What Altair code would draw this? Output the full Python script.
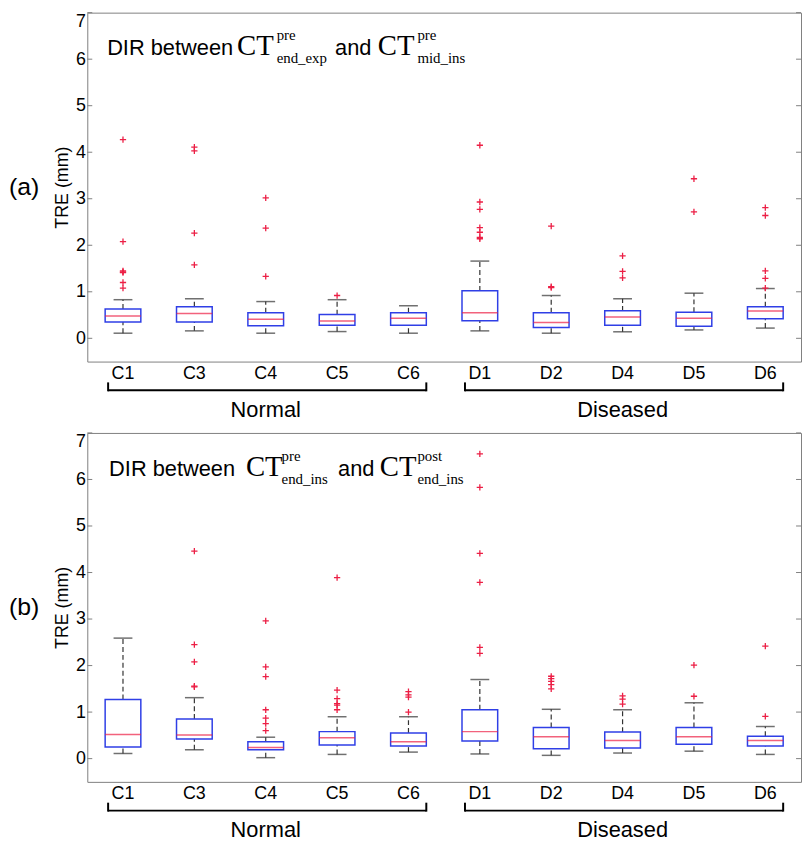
import altair as alt
import pandas as pd

W, H = 720, 352
BLUE = "#2f3fe6"
RED = "#ec1f45"
WHISK = "#333333"
FRAME = "#808080"
SANS = "Liberation Sans"
SERIF = "Liberation Serif"

cats = ["C1", "C3", "C4", "C5", "C6", "D1", "D2", "D4", "D5", "D6"]
groups = ["Normal", "Diseased"]
group_start = ["C1", "D1"]
group_end = ["C6", "D6"]
group_mid = ["C4", "D4"]
yticks = [0, 1, 2, 3, 4, 5, 6, 7]

# Panel (a)
a_lo = [0.11, 0.16, 0.11, 0.145, 0.11, 0.16, 0.11, 0.14, 0.18, 0.22]
a_q1 = [0.35, 0.35, 0.27, 0.28, 0.28, 0.38, 0.23, 0.28, 0.26, 0.42]
a_med = [0.48, 0.535, 0.41, 0.37, 0.43, 0.55, 0.34, 0.46, 0.43, 0.585]
a_q3 = [0.63, 0.68, 0.55, 0.51, 0.55, 1.02, 0.55, 0.59, 0.56, 0.68]
a_hi = [0.83, 0.85, 0.79, 0.83, 0.70, 1.66, 0.92, 0.85, 0.97, 1.07]
a_out = [[4.27, 2.08, 1.45, 1.43, 1.41, 1.20, 1.08],
         [4.11, 4.03, 2.26, 1.58],
         [3.02, 2.37, 1.33],
         [0.92],
         [],
         [4.15, 2.93, 2.77, 2.38, 2.28, 2.17, 2.14],
         [2.41, 1.11, 1.09],
         [1.77, 1.44, 1.30],
         [3.43, 2.72],
         [2.81, 2.64, 1.45, 1.29, 1.08]]
a_title = ["DIR between", "CT", "pre", "end_exp", "and", "CT", "pre", "mid_ins"]

# Panel (b)
b_lo = [0.11, 0.19, 0.02, 0.09, 0.14, 0.10, 0.07, 0.12, 0.16, 0.09]
b_q1 = [0.25, 0.42, 0.19, 0.29, 0.27, 0.38, 0.21, 0.23, 0.31, 0.27]
b_med = [0.52, 0.51, 0.24, 0.45, 0.36, 0.58, 0.47, 0.39, 0.47, 0.39]
b_q3 = [1.27, 0.85, 0.36, 0.58, 0.55, 1.05, 0.67, 0.57, 0.67, 0.48]
b_hi = [2.59, 1.31, 0.46, 0.90, 0.90, 1.70, 1.06, 1.05, 1.20, 0.69]
b_out = [[],
         [4.46, 2.45, 2.08, 1.56, 1.54],
         [2.96, 1.97, 1.76, 1.05, 0.87, 0.75, 0.60],
         [3.89, 1.47, 1.29, 1.18, 1.15, 1.05],
         [1.44, 1.37, 1.32, 1.00],
         [6.55, 5.83, 4.41, 3.79, 2.39, 2.26],
         [1.77, 1.72, 1.66, 1.59, 1.50],
         [1.35, 1.28, 1.17],
         [2.01, 1.34],
         [2.42, 0.91]]
b_title = ["DIR between", "CT", "pre", "end_ins", "and", "CT", "post", "end_ins"]

xscale = alt.Scale(domain=cats, paddingInner=0, paddingOuter=0)
xaxis = alt.Axis(title=None, labelAngle=0, ticks=False, domain=False, labelPadding=3,
                 labelFontSize=18, grid=False)
yscale = alt.Scale(domain=[-0.5, 7], nice=False, zero=False)
yaxis = alt.Axis(values=yticks, title="TRE (mm)", titleFontSize=18, titleFontWeight="normal",
                 titlePadding=4, labelFontSize=18, labelPadding=2, ticks=False, domain=False,
                 labelFlush=True, grid=False, format="d")


def X(field):
    return alt.X(field, sort=cats, scale=xscale, axis=xaxis)


def Y(field):
    return alt.Y(field, scale=yscale, axis=yaxis)


def seg(text, x, y, size, font):
    return alt.Chart(pd.DataFrame({"t": [text]})).mark_text(
        align="left", baseline="alphabetic", fontSize=size, font=font, color="black"
    ).encode(x=alt.value(x), y=alt.value(y), text="t:N")


def panel(lo, q1, med, q3, hi, outs, letter, title, tx):
    df = pd.DataFrame({"cat": cats, "lo": lo, "q1": q1, "med": med, "q3": q3, "hi": hi})
    odf = pd.DataFrame([(c, v) for c, vs in zip(cats, outs) for v in vs], columns=["cat", "v"])
    gdf = pd.DataFrame({"start": group_start, "end": group_end, "mid": group_mid, "label": groups})
    tdf = pd.DataFrame({"t": yticks})
    base = alt.Chart(df)
    layers = [
        base.mark_rule(strokeDash=[5, 3], color=WHISK, strokeWidth=1.2).encode(x=X("cat:N"), y=Y("q3:Q"), y2="hi:Q"),
        base.mark_rule(strokeDash=[5, 3], color=WHISK, strokeWidth=1.2).encode(x=X("cat:N"), y=Y("lo:Q"), y2="q1:Q"),
        base.mark_tick(size=19, thickness=1.5, color=WHISK).encode(x=X("cat:N"), y=Y("hi:Q")),
        base.mark_tick(size=19, thickness=1.5, color=WHISK).encode(x=X("cat:N"), y=Y("lo:Q")),
        base.mark_bar(size=36, fillOpacity=0, stroke=BLUE, strokeWidth=1.5).encode(x=X("cat:N"), y=Y("q1:Q"), y2="q3:Q"),
        base.mark_tick(size=36, thickness=1.5, color=RED).encode(x=X("cat:N"), y=Y("med:Q")),
        alt.Chart(odf).mark_point(shape="M-1,0L1,0M0,-1L0,1", size=40, filled=False, color=RED,
                                  strokeWidth=1.3, opacity=1).encode(x=X("cat:N"), y=Y("v:Q")),
        alt.Chart(tdf).mark_rule(color=FRAME, strokeWidth=1).encode(y=Y("t:Q"), x=alt.value(0), x2=alt.value(5)),
        alt.Chart(tdf).mark_rule(color=FRAME, strokeWidth=1).encode(y=Y("t:Q"), x=alt.value(W - 5), x2=alt.value(W)),
        alt.Chart(gdf).mark_rule(xOffset=-15, x2Offset=18, strokeWidth=2, color="black").encode(
            x=X("start:N"), x2="end:N", y=alt.value(H + 29)),
        alt.Chart(gdf).mark_rule(xOffset=-15, strokeWidth=2, color="black").encode(
            x=X("start:N"), y=alt.value(H + 21), y2=alt.value(H + 30)),
        alt.Chart(gdf).mark_rule(xOffset=18, strokeWidth=2, color="black").encode(
            x=X("end:N"), y=alt.value(H + 21), y2=alt.value(H + 30)),
        alt.Chart(gdf).mark_text(fontSize=22, baseline="middle", font=SANS, color="black").encode(
            x=X("mid:N"), y=alt.value(H + 49), text="label:N"),
        alt.Chart(pd.DataFrame({"t": [letter]})).mark_text(
            align="left", baseline="middle", fontSize=25, font=SANS, color="black").encode(
            x=alt.value(-79), y=alt.value(H / 2), text="t:N"),
    ]
    sizes = [22, 29, 15, 15, 22, 29, 15, 15]
    fonts = [SANS, SERIF, SERIF, SERIF, SANS, SERIF, SERIF, SERIF]
    ys = [43, 43, 28, 51, 43, 43, 28, 51]
    for t, x, s, f, yy in zip(title, tx, sizes, fonts, ys):
        layers.append(seg(t, x, yy, s, f))
    return alt.layer(*layers).properties(width=W, height=H)


pa = panel(a_lo, a_q1, a_med, a_q3, a_hi, a_out, "(a)", a_title,
           [20, 151, 191, 191, 250, 293, 333, 333])
pb = panel(b_lo, b_q1, b_med, b_q3, b_hi, b_out, "(b)", b_title,
           [22, 160, 196, 196, 253, 295, 333, 333])

chart = alt.vconcat(pa, pb, spacing=72, bounds="flush").properties(padding=0).configure_view(
    stroke=FRAME, strokeWidth=1
).configure_axis(labelFont=SANS, titleFont=SANS, labelColor="black", titleColor="black")

chart.save("out.html", embed_options={"renderer": "svg", "actions": False})
